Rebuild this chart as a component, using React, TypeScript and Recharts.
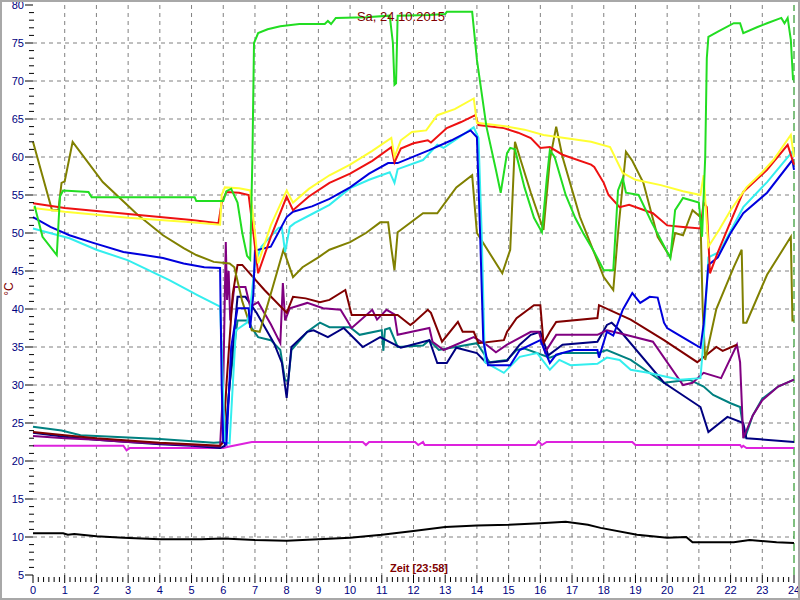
import React from 'react';
import { LineChart, Line, XAxis, YAxis, CartesianGrid, ReferenceLine } from 'recharts';

type P = [number, number];

// hour of day, °C
const green: P[] = [[0.05,53.6],[0.3,49.5],[0.75,47.1],[0.85,54.8],[0.95,55.6],[1.75,55.4],[1.85,54.7],[5.1,54.7],[5.15,54.2],[6.0,54.2],[6.1,55.5],[6.25,55.8],[6.45,54],[6.6,50],[6.75,47],[6.85,46.5],[6.92,60],[6.97,75],[7.1,76.3],[7.4,76.8],[7.8,77.2],[8.4,77.5],[9.2,77.5],[9.3,77.9],[9.4,77.5],[9.55,78.3],[10.5,78.4],[11.25,78.6],[11.35,75],[11.4,69.5],[11.45,69.7],[11.5,78.6],[12.5,78.7],[13.0,78.8],[13.05,79.1],[13.85,79.1],[14.0,72.8],[14.3,64],[14.6,58.3],[14.75,55.3],[14.95,60.5],[15.05,61.2],[15.2,61],[15.5,56],[15.8,52],[16.05,50.1],[16.2,57],[16.3,60.9],[16.45,60],[16.8,55],[17.1,52],[17.35,50],[17.7,47.5],[18.0,45.1],[18.3,45.1],[18.45,55.6],[18.6,57.2],[18.7,55.3],[19.1,55],[19.5,51.5],[20.1,46.7],[20.25,53],[20.5,54.6],[21.0,54],[21.1,49.5],[21.2,60],[21.25,73],[21.3,75.8],[21.6,76.5],[22.1,77.6],[22.3,77.6],[22.4,76.3],[22.85,77.1],[23.15,77.6],[23.6,78.3],[23.7,77.6],[23.8,78.3],[23.9,75.4],[23.97,70.1]];
const yellow: P[] = [[0,53.3],[1,52.8],[2,52.4],[3,52],[4,51.7],[5,51.4],[5.9,51.1],[5.95,55],[6.05,56],[6.5,55.9],[6.85,55.6],[7.0,50],[7.1,46],[7.5,51],[8.0,55.6],[8.2,54],[8.7,55.8],[9.35,57.6],[10,59],[10.7,60.8],[11.3,62.5],[11.4,60],[11.6,62.2],[11.95,63.3],[12.4,63.5],[12.75,65.5],[13.3,66.3],[13.9,67.7],[14.0,64.5],[14.95,64],[15.5,63.6],[16.1,62.9],[17.6,62],[18.2,61.3],[18.6,57.9],[19.0,57],[19.8,56.3],[20.5,55.5],[21.05,55],[21.15,57.6],[21.3,48.2],[21.65,50.5],[22.0,53],[22.5,56],[23.0,58],[23.35,59.6],[23.9,62.9],[24,60]];
const red: P[] = [[0,53.9],[1,53.3],[2,52.9],[3,52.5],[4,52.1],[5,51.7],[5.85,51.3],[5.95,54],[6.1,55.4],[6.5,55.3],[6.8,55],[6.95,50],[7.1,44.7],[7.5,49.5],[8.0,54.8],[8.2,53],[8.7,54.8],[9.35,56.6],[10,57.8],[10.7,59.5],[11.3,61.3],[11.4,59.3],[11.6,61.1],[12.0,61.8],[12.45,62.2],[12.55,61.9],[13.05,63.8],[13.5,64.6],[13.95,65.5],[14.05,64.2],[14.85,63.8],[15.3,63.2],[15.7,62.5],[16.0,61.2],[16.3,61.3],[16.7,60.3],[17.6,59],[17.7,58.7],[18.0,56.6],[18.15,55],[18.5,53.4],[18.8,53.7],[19.55,52.6],[20.0,51],[20.5,50.8],[21.05,50.6],[21.15,54],[21.25,53.4],[21.35,44.7],[21.6,47.5],[22.0,51.5],[22.4,55.4],[23.15,58.3],[23.8,61.6],[24,59]];
const blue: P[] = [[0,52.1],[0.55,50.8],[1.15,49.7],[1.9,48.7],[2.85,47.5],[3.5,47.1],[4.1,46.7],[4.75,46],[5.4,45.5],[5.9,45.4],[5.95,30],[6.0,22.5],[6.1,22.2],[6.25,35],[6.45,40.1],[6.8,40.1],[6.85,37.5],[6.95,42],[7.0,47.7],[7.5,48.2],[8.0,52.1],[8.2,52.8],[8.8,53.5],[9.35,54.5],[10,56],[10.6,57.8],[11.2,59.2],[11.5,59.2],[12.5,60.9],[13.2,62.2],[13.8,63.5],[14.0,62.6],[14.1,50],[14.2,35.9],[14.35,32.6],[15.05,32.6],[15.35,34.6],[16.0,35.9],[16.3,32.9],[16.5,34],[17.05,34.6],[17.8,34.6],[17.85,33.6],[18.1,37],[18.3,36.5],[18.6,39.9],[18.9,42.1],[19.15,40.8],[19.45,41.6],[19.7,41.5],[19.9,38.2],[20.0,37.5],[20.2,37],[20.8,35.5],[21.05,34.9],[21.15,38],[21.3,45.8],[21.6,46.8],[22.0,50],[22.4,52.6],[23.15,55.3],[23.95,59.6],[24,58.3]];
const cyan: P[] = [[0,50.6],[1.15,49.3],[2,47.8],[3,46.4],[4.3,43.8],[5.2,41.8],[5.9,40.3],[5.95,35],[6.05,22.5],[6.2,22.3],[6.3,30],[6.4,37.2],[6.75,38.2],[6.85,40],[7.0,46],[7.2,48.2],[7.75,50.7],[7.85,50.7],[7.95,47.5],[8.1,50.8],[8.25,51.3],[8.8,52.5],[9.35,53.7],[10,55.9],[10.6,57],[11.25,58],[11.4,56.6],[11.5,58.4],[12.3,59.6],[12.75,61.6],[12.95,61.2],[13.9,63.9],[14.05,62.5],[14.15,50],[14.25,33],[14.85,31.6],[15.35,33.7],[15.9,34.2],[16.3,32],[16.6,33.3],[16.95,32.6],[17.8,32.8],[18.1,33.6],[18.5,33.3],[18.85,32],[19.4,31.6],[20.4,30.7],[21.05,30.9],[21.15,36],[21.3,46.8],[21.65,47.5],[22.4,53.4],[23.15,56.7],[23.95,60.7],[24,60]];
const olive: P[] = [[0,62],[0.3,57.5],[0.6,53],[0.8,53],[0.9,56.6],[1.0,56.8],[1.25,62],[2.2,56.7],[3.3,52.4],[4.1,49.7],[4.75,48],[5.15,47.1],[5.7,46.2],[6.2,46],[6.35,45.5],[6.6,41],[6.9,37.2],[7.15,37],[7.5,42],[7.9,47.8],[8.2,44.2],[8.5,45.5],[9.0,46.8],[9.35,47.8],[10,48.8],[10.5,50],[10.95,51.4],[11.2,51.4],[11.3,48],[11.4,45.1],[11.5,50.1],[12.3,52.6],[12.75,52.6],[13.35,56],[13.85,57.6],[14.0,50],[14.8,44.7],[15.05,47.8],[15.2,62],[15.7,55.3],[16.1,50.4],[16.3,59.6],[16.5,64],[16.7,60],[17.25,52.1],[17.7,47.4],[18.0,44.2],[18.3,42.5],[18.45,50],[18.7,60.7],[18.9,59.5],[19.25,56.6],[19.7,49.5],[20.1,46.8],[20.25,50],[20.5,49.7],[20.8,53],[21.05,52.1],[21.12,40],[21.2,33.3],[21.55,40],[22.1,45.5],[22.35,47.8],[22.4,38.2],[22.5,38.2],[23.15,44.5],[23.9,49.5],[23.95,38.5],[24,38.5]];
const maroon: P[] = [[0,23.8],[1,23.4],[2,23],[3,22.7],[4,22.4],[5,22.2],[5.9,22],[6.0,22.5],[6.1,30],[6.3,42],[6.45,45.8],[6.6,45.8],[7.3,42.5],[8.0,39.5],[8.2,41.6],[8.6,41.4],[9.05,40.9],[9.35,41.2],[9.85,42.5],[10.05,39.2],[11.5,39.2],[11.9,37.9],[12.0,38.2],[12.45,39.9],[12.55,39.5],[12.9,35.7],[13.4,38.3],[13.55,37],[13.9,37],[14.05,35.5],[14.85,35.9],[14.95,37],[15.25,38.8],[15.8,40.5],[16.0,40.5],[16.1,35.5],[16.3,37],[16.5,38.3],[17.8,38.8],[17.85,40.5],[18.85,38.6],[19.9,35.9],[20.95,33],[21.55,35],[21.75,34.5],[22.2,35.3]];
const purple: P[] = [[0,23.3],[1,23],[2,22.8],[3,22.5],[4,22.3],[5,22.1],[5.9,21.9],[6.0,30],[6.08,48.8],[6.12,41.2],[6.17,45],[6.22,38.5],[6.35,42.9],[6.7,42.9],[6.85,40.3],[7.1,40.9],[7.5,38],[7.8,35.5],[7.88,43.4],[7.95,38.5],[8.1,40.1],[8.65,40.8],[9.15,40.1],[9.7,39.9],[10.05,37.5],[10.7,39.9],[10.85,38.6],[11.15,39.9],[11.4,39.3],[11.5,36.6],[12.5,37.5],[12.6,35.7],[12.95,34.6],[13.9,36.3],[14.3,35.3],[14.6,34.3],[14.95,35.3],[15.7,37],[15.95,37],[16.15,34.3],[16.5,36.6],[17.8,36.6],[18.1,37.2],[18.5,36.8],[19.55,35.7],[20.5,30],[20.8,30.3],[21.15,31.6],[21.7,30.9],[22.2,35.3],[22.3,33],[22.4,23],[22.7,26],[23.0,28],[23.5,29.8],[24,30.7]];
const navy: P[] = [[0,23.7],[1,23.2],[2,22.8],[3,22.5],[4,22.2],[5,22],[5.9,21.7],[6.05,22],[6.2,30],[6.45,41.6],[6.7,41.6],[7.05,39.5],[7.6,35.5],[7.85,32.9],[8.0,28.3],[8.15,35],[8.65,37],[8.85,37.2],[9.3,36.3],[9.8,37.5],[10.4,35],[10.95,36.3],[11.6,34.9],[12.5,35.9],[12.75,32.9],[13.05,32.9],[13.35,34.9],[14.0,34.2],[14.3,32.9],[14.95,33.2],[15.35,35.3],[15.7,36.6],[16.0,37],[16.25,33.9],[16.7,35.3],[17.8,35.7],[18.1,37.9],[18.25,38.2],[18.5,37.2],[19.9,30.3],[21.05,27.1],[21.3,23.8],[21.9,25.8],[22.4,25],[22.5,23],[24,22.5]];
const teal: P[] = [[0,24.5],[0.9,24],[1.5,23.4],[3,23.1],[4,22.9],[5.7,22.4],[6.05,22.5],[6.2,30],[6.45,38.5],[6.8,38.5],[6.9,37.5],[7.1,36.3],[7.5,35.9],[7.8,34.6],[7.95,30.6],[8.05,30.6],[8.15,34.6],[8.65,37],[9.05,38.2],[9.35,37.6],[10.0,37.6],[10.3,36.6],[11.0,37.2],[11.05,34.5],[11.1,37.3],[11.25,37.5],[11.5,35],[12.3,35.2],[12.5,35.9],[12.8,34.6],[14.0,35.5],[14.4,33],[14.95,33.3],[15.25,34.6],[15.5,34.8],[16.3,33.6],[16.7,34.2],[17.8,34.2],[18.1,34.6],[18.85,33.3],[19.9,30.3],[20.7,30.7],[21.15,29.8],[21.45,28.7],[22.0,27.6],[22.3,27.1],[22.45,23],[22.7,26],[23.0,28.2],[23.5,29.8],[24,30.7]];
const magenta: P[] = [[0,22],[2.85,22],[2.95,21.4],[3.05,21.7],[6.0,21.7],[6.2,21.9],[6.9,22.5],[10.4,22.5],[10.5,22.1],[10.6,22.5],[12.05,22.5],[12.15,22.1],[12.3,22.5],[12.35,22.1],[15.85,22.1],[15.95,22.6],[16.05,22.1],[16.2,22.5],[18.9,22.5],[19.0,22.1],[22.3,22.1],[22.35,21.8],[22.4,22],[22.5,21.7],[24,21.7]];
const black: P[] = [[0,10.5],[0.5,10.5],[0.95,10.5],[1.1,10.3],[1.3,10.4],[2,10.1],[2.85,9.9],[4,9.7],[5.3,9.7],[6,9.8],[7,9.6],[8,9.5],[9,9.7],[10,9.9],[11,10.3],[12,10.8],[13,11.3],[14,11.5],[15,11.6],[16,11.8],[16.8,12.0],[17.5,11.6],[17.9,11.2],[19.05,10.3],[20,9.9],[20.6,10],[20.8,9.3],[22.1,9.3],[22.6,9.6],[23.45,9.3],[24,9.2]];

const xMajorTicks = [0,1,2,3,4,5,6,7,8,9,10,11,12,13,14,15,16,17,18,19,20,21,22,23,24];
const yMajorTicks = [5,10,15,20,25,30,35,40,45,50,55,60,65,70,75,80];
const gridX = [1,2,3,4,5,6,7,8,9,10,11,12,13,14,15,16,17,18,19,20,21,22,23];
const gridY = [10,15,20,25,30,35,40,45,50,55,60,65,70,75];

const xTicks: number[] = [];
for (let i = 0; i <= 24 * 6; i++) xTicks.push(i / 6);
const yTicks: number[] = [];
for (let v = 5; v <= 80; v++) yTicks.push(v);

const series = [
  { key: 'black', color: '#000000', pts: black },
  { key: 'magenta', color: '#dd22dd', pts: magenta },
  { key: 'teal', color: '#008080', pts: teal },
  { key: 'navy', color: '#000080', pts: navy },
  { key: 'purple', color: '#800080', pts: purple },
  { key: 'maroon', color: '#800000', pts: maroon },
  { key: 'olive', color: '#808000', pts: olive },
  { key: 'cyan', color: '#33eeee', pts: cyan },
  { key: 'blue', color: '#0000dd', pts: blue },
  { key: 'red', color: '#ee1111', pts: red },
  { key: 'yellow', color: '#ffff33', pts: yellow },
  { key: 'green', color: '#22dd22', pts: green },
];

const FONT = '"Liberation Sans", Arial, sans-serif';

const YTick = (props: any) => {
  const { x, y, payload } = props;
  const v = payload.value as number;
  const major = yMajorTicks.includes(v);
  return (
    <g>
      {major ? (
        <line x1={x - 8} x2={x} y1={y} y2={y} stroke="#000" strokeWidth={1} />
      ) : (
        <line x1={x - 4} x2={x + 1} y1={y} y2={y} stroke="#000" strokeWidth={1} />
      )}
      {major && (
        <text x={x - 9} y={y} dy={4} textAnchor="end" fill="#000080" fontSize={11} fontFamily={FONT}>
          {v}
        </text>
      )}
    </g>
  );
};

const XTick = (props: any) => {
  const { x, y, payload } = props;
  const v = payload.value as number;
  const r = Math.round(v);
  const major = Math.abs(v - r) < 1e-6 && xMajorTicks.includes(r);
  return (
    <g>
      {major ? (
        <line x1={x} x2={x} y1={y} y2={y + 8} stroke="#000" strokeWidth={1} />
      ) : (
        <line x1={x} x2={x} y1={y + 2} y2={y + 7} stroke="#000" strokeWidth={1} />
      )}
      {major && (
        <text x={x} y={y + 19} textAnchor="middle" fill="#000080" fontSize={11} fontFamily={FONT}>
          {r}
        </text>
      )}
    </g>
  );
};

export default function App() {
  return (
    <div style={{ position: 'absolute', left: 0, top: 0, width: 800, height: 600, background: '#fff', overflow: 'hidden' }}>
      <LineChart width={800} height={600} margin={{ top: 5, right: 6, bottom: 0, left: 0 }}>
        <CartesianGrid
          stroke="#808080"
          strokeDasharray="4 4"
          horizontalValues={gridY}
          verticalValues={gridX}
        />
        <XAxis
          dataKey="h"
          type="number"
          domain={[0, 24]}
          ticks={xTicks}
          interval={0}
          height={25}
          axisLine={false}
          tickLine={false}
          tickSize={0}
          tickMargin={0}
          tick={<XTick />}
          allowDuplicatedCategory={false}
        />
        <YAxis
          type="number"
          domain={[5, 80]}
          ticks={yTicks}
          interval={0}
          width={33}
          axisLine={false}
          tickLine={false}
          tickSize={0}
          tickMargin={0}
          tick={<YTick />}
          allowDataOverflow
        />
        <ReferenceLine x={24} stroke="#008000" strokeDasharray="8 4" strokeWidth={1} />
        {series.map((s) => (
          <Line
            key={s.key}
            data={s.pts.map(([h, v]) => ({ h, v }))}
            dataKey="v"
            stroke={s.color}
            strokeWidth={2}
            dot={false}
            activeDot={false}
            type="linear"
            isAnimationActive={false}
          />
        ))}
      </LineChart>
      <div style={{ position: 'absolute', left: 0, top: 9, width: 802, textAlign: 'center', fontFamily: FONT, fontSize: 13, lineHeight: '15px', color: '#800000' }}>
        Sa, 24.10.2015
      </div>
      <div style={{ position: 'absolute', left: 0, top: 562, width: 838, textAlign: 'center', fontFamily: FONT, fontSize: 11, fontWeight: 'bold', lineHeight: '13px', color: '#800000' }}>
        Zeit [23:58]
      </div>
      <div style={{ position: 'absolute', left: 2, top: 282, width: 14, height: 14, fontFamily: FONT, fontSize: 12, color: '#800000', transform: 'rotate(-90deg)', lineHeight: '14px', textAlign: 'center' }}>
        °C
      </div>
      <div style={{ position: 'absolute', left: 0, top: 0, width: 800, height: 600, border: '2px solid #a8a8a8', boxSizing: 'border-box', pointerEvents: 'none' }} />
    </div>
  );
}
